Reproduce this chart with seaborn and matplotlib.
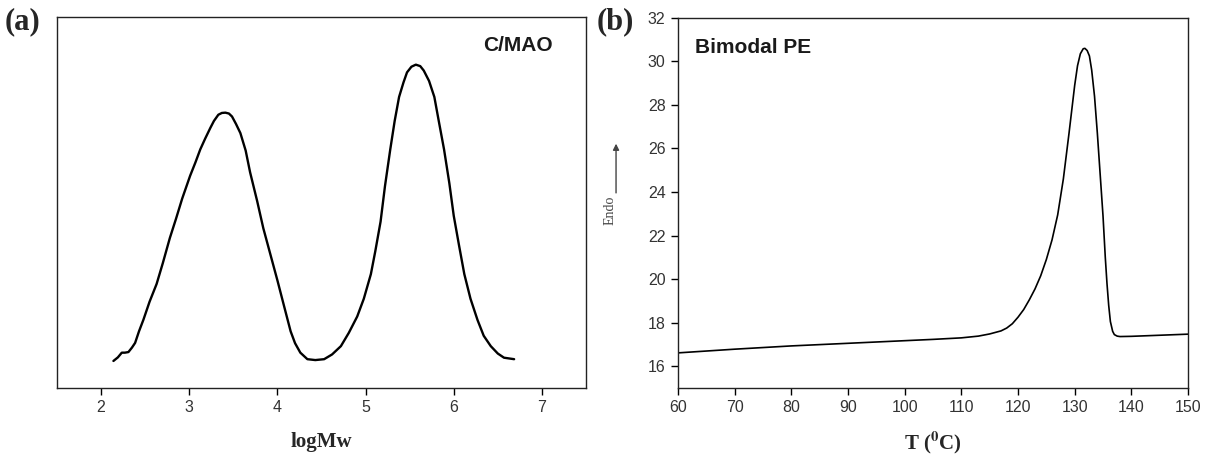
import numpy as np
import pandas as pd
import matplotlib
matplotlib.use("Agg")
import matplotlib.pyplot as plt
import seaborn as sns

# ---- Panel (a): GPC trace (logMw vs normalised signal) ----
gpc_logmw = [2.14, 2.19, 2.235, 2.27, 2.31, 2.35, 2.386, 2.43, 2.48, 2.55, 2.63, 2.70,
             2.78, 2.85, 2.92, 3.01, 3.07, 3.125, 3.18, 3.24, 3.28, 3.33, 3.37, 3.41,
             3.45, 3.485, 3.53, 3.58, 3.64, 3.69, 3.77, 3.84, 3.92, 4.00, 4.08, 4.15,
             4.20, 4.26, 4.34, 4.43, 4.53, 4.62, 4.72, 4.81, 4.905, 4.98, 5.06, 5.11,
             5.17, 5.22, 5.28, 5.33, 5.38, 5.43, 5.47, 5.52, 5.57, 5.62, 5.66, 5.72,
             5.78, 5.83, 5.89, 5.95, 6.00, 6.06, 6.12, 6.19, 6.27, 6.34, 6.42, 6.50,
             6.57, 6.685]
gpc_signal = [0.000, 0.012, 0.028, 0.028, 0.030, 0.045, 0.061, 0.100, 0.139, 0.200, 0.260, 0.330,
              0.415, 0.480, 0.548, 0.625, 0.670, 0.714, 0.750, 0.787, 0.810, 0.831, 0.837, 0.838,
              0.835, 0.825, 0.800, 0.769, 0.710, 0.637, 0.540, 0.448, 0.360, 0.272, 0.180, 0.100,
              0.060, 0.028, 0.006, 0.003, 0.006, 0.022, 0.050, 0.095, 0.150, 0.210, 0.293, 0.370,
              0.470, 0.590, 0.714, 0.810, 0.891, 0.940, 0.974, 0.993, 1.000, 0.995, 0.980, 0.945,
              0.891, 0.810, 0.714, 0.600, 0.490, 0.390, 0.293, 0.210, 0.138, 0.085, 0.050, 0.025,
              0.011, 0.006]

# ---- Panel (b): DSC trace ----
dsc_temp = [60, 70, 80, 90, 100, 105, 110, 113, 115, 117, 118, 119, 120, 121, 122, 123,
            124, 125, 126, 127, 128, 129, 130, 130.5, 131, 131.5, 131.8, 132.2, 132.6, 133,
            133.5, 134, 134.5, 135, 135.4, 135.7, 136, 136.3, 136.7, 137, 137.5, 138, 140,
            145, 150]
dsc_endo = [16.61, 16.78, 16.93, 17.05, 17.17, 17.23, 17.30, 17.38, 17.48, 17.62, 17.75, 17.95,
            18.25, 18.6, 19.05, 19.55, 20.15, 20.9, 21.8, 22.95, 24.6, 26.7, 28.9, 29.8,
            30.35, 30.58, 30.6, 30.5, 30.25, 29.6, 28.4, 26.7, 24.8, 22.9, 21.0, 19.8,
            18.8, 18.05, 17.6, 17.45, 17.38, 17.36, 17.37, 17.42, 17.47]

x_ticks_a = [2, 3, 4, 5, 6, 7]
x_ticks_b = [60, 70, 80, 90, 100, 110, 120, 130, 140, 150]
y_ticks_b = [16, 18, 20, 22, 24, 26, 28, 30, 32]

sns.set_style("ticks")
plt.rcParams["font.family"] = ["Liberation Sans", "DejaVu Sans"]
plt.rcParams["mathtext.fontset"] = "stix"
plt.rcParams["axes.linewidth"] = 1.0

fig = plt.figure(figsize=(12.05, 4.58), dpi=100)
ax1 = fig.add_axes([0.0473, 0.153, 0.4390, 0.810])
ax2 = fig.add_axes([0.5627, 0.153, 0.4232, 0.808])

df_a = pd.DataFrame({"logMw": gpc_logmw, "signal": gpc_signal})
sns.lineplot(data=df_a, x="logMw", y="signal", ax=ax1, color="black", lw=1.7, sort=False,
             solid_joinstyle="round", solid_capstyle="round")
ax1.set_xlim(1.5, 7.5)
ax1.set_ylim(-0.091, 1.161)
ax1.set_xticks(x_ticks_a)
ax1.set_yticks([])
ax1.tick_params(axis="x", direction="out", length=5, width=1, labelsize=11.5, colors="black",
                labelcolor="#333333", pad=4)
ax1.set_xlabel("logMw", family="Liberation Serif", fontweight="bold", fontsize=15, labelpad=12)
ax1.set_ylabel("")
ax1.text(0.8715, 0.922, "C/MAO", transform=ax1.transAxes, ha="center", va="center",
         fontsize=15, fontweight="bold", color="#1a1a1a")
fig.text(0.004, 0.952, "(a)", family="Liberation Serif", fontweight="bold", fontsize=22,
         ha="left", va="center")

df_b = pd.DataFrame({"T": dsc_temp, "Endo": dsc_endo})
sns.lineplot(data=df_b, x="T", y="Endo", ax=ax2, color="black", lw=1.2, sort=False)
ax2.set_xlim(60, 150)
ax2.set_ylim(15, 32)
ax2.set_xticks(x_ticks_b)
ax2.set_yticks(y_ticks_b)
ax2.tick_params(axis="both", direction="out", length=5, width=1, labelsize=11.5, colors="black",
                labelcolor="#333333", pad=4)
ax2.set_xlabel(r"T ($\mathbf{^{0}}$C)", family="Liberation Serif", fontweight="bold",
               fontsize=15, labelpad=10)
ax2.set_ylabel("Endo", family="Liberation Serif", fontsize=10, color="#444444")
ax2.yaxis.set_label_coords(-0.1216, 0.48)
ax2.annotate("", xy=(-0.1216, 0.66), xytext=(-0.1216, 0.527), xycoords="axes fraction",
             textcoords="axes fraction", annotation_clip=False,
             arrowprops=dict(arrowstyle="-|>", lw=1.0, color="#444444", mutation_scale=9,
                             shrinkA=0, shrinkB=0))
ax2.text(0.033, 0.92, "Bimodal PE", transform=ax2.transAxes, ha="left", va="center",
         fontsize=15, fontweight="bold", color="#1a1a1a")
fig.text(0.4955, 0.952, "(b)", family="Liberation Serif", fontweight="bold", fontsize=22,
         ha="left", va="center")

for ax in (ax1, ax2):
    for s in ax.spines.values():
        s.set_visible(True)
        s.set_color("#222222")

fig.savefig("out.png", dpi=100)
